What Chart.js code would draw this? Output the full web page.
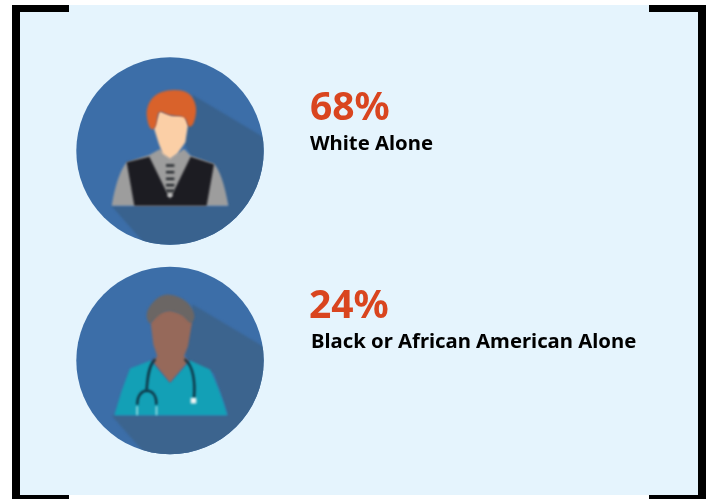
<!DOCTYPE html>
<html><head><meta charset="utf-8">
<style>html,body{margin:0;padding:0;background:#fff}canvas{display:block}</style>
<script src="https://cdn.jsdelivr.net/npm/chart.js@4/dist/chart.umd.min.js"></script>
</head><body><canvas id="c" width="709" height="499"></canvas>
<script>
const categories = ["White Alone", "Black or African American Alone"];
const percentages = [68, 24];

const FONT = '"Noto Sans"';
function poly(ctx, pts){ctx.beginPath();pts.forEach((p,i)=>i?ctx.lineTo(p[0],p[1]):ctx.moveTo(p[0],p[1]));ctx.closePath();}
function smooth(ctx, pts){
  ctx.beginPath();
  const n=pts.length;
  for(let i=0;i<n;i++){
    const a=pts[i],b=pts[(i+1)%n],m=[(a[0]+b[0])/2,(a[1]+b[1])/2];
    if(i===0){const z=pts[n-1];ctx.moveTo((z[0]+a[0])/2,(z[1]+a[1])/2);}
    ctx.quadraticCurveTo(a[0],a[1],m[0],m[1]);
  }
  ctx.closePath();
}
function shadow(ctx,col){
  ctx.fillStyle=col;
  poly(ctx,[[398,150],[650,300],[650,660],[310,660],[155,483],[505,483],[462,356],[392,332],[372,292]]);
  ctx.fill();
}
function man(ctx){
  ctx.fillStyle='#9d9d9d';
  ctx.beginPath();ctx.moveTo(200,352);ctx.quadraticCurveTo(172,385,155,482);ctx.lineTo(505,482);
  ctx.quadraticCurveTo(488,385,462,356);ctx.lineTo(392,332);ctx.lineTo(372,312);ctx.lineTo(330,340);ctx.lineTo(300,312);ctx.lineTo(268,330);ctx.closePath();ctx.fill();
  ctx.fillStyle='#1c1c22';
  poly(ctx,[[200,352],[268,335],[330,462],[392,335],[462,358],[440,482],[223,482]]);ctx.fill();
  ctx.fillStyle='#1f2327';
  for(const y of [358,378,398,417,434]){ctx.fillRect(318,y,25,7);}
  ctx.fillStyle='#e8e8e8';ctx.fillRect(322,449,16,5);
  ctx.fillStyle='#fbcfa6';
  poly(ctx,[[290,225],[298,198],[335,212],[374,212],[384,240],[376,292],[352,326],[330,342],[308,326],[296,295],[282,250]]);ctx.fill();
  ctx.fillStyle='#d9622b';
  smooth(ctx,[[268,255],[256,195],[280,150],[330,132],[388,140],[412,185],[402,238],[385,250],[376,212],[330,214],[298,196],[292,215],[288,250]]);ctx.fill();
}
function nurse(ctx){
  ctx.fillStyle='#13a0b6';
  ctx.beginPath();ctx.moveTo(210,342);ctx.lineTo(272,318);ctx.lineTo(330,385);ctx.lineTo(390,318);ctx.lineTo(450,345);
  ctx.quadraticCurveTo(482,410,502,482);ctx.lineTo(163,482);ctx.quadraticCurveTo(182,410,210,342);ctx.closePath();ctx.fill();
  ctx.fillStyle='#96695a';
  poly(ctx,[[272,205],[290,175],[330,165],[372,178],[396,205],[384,275],[372,305],[385,320],[330,384],[278,320],[292,305],[280,270]]);ctx.fill();
  ctx.fillStyle='#6b6664';
  smooth(ctx,[[268,212],[255,175],[290,128],[330,116],[385,140],[408,185],[392,212],[368,180],[318,165],[282,195]]);ctx.fill();
  ctx.strokeStyle='#0f2f3f';ctx.lineWidth=7;ctx.lineCap='round';
  ctx.beginPath();ctx.moveTo(284,316);ctx.bezierCurveTo(265,335,262,375,260,405);ctx.stroke();
  ctx.beginPath();ctx.moveTo(232,448);ctx.bezierCurveTo(232,395,290,395,289,448);ctx.stroke();
  ctx.beginPath();ctx.moveTo(376,316);ctx.bezierCurveTo(400,335,406,385,402,428);ctx.stroke();
  ctx.fillStyle='#eef3f3';ctx.fillRect(392,430,17,17);
  ctx.fillStyle='#9fdbe2';ctx.fillRect(229,455,5,27);ctx.fillRect(287,455,5,27);
}
const figures=[man,nurse];
const shades=['#39628e','#3c648e'];

const deco={
  id:'deco',
  beforeDatasetsDraw(chart){
    const c=chart.ctx;
    c.save();
    c.fillStyle='#e5f4fd';c.fillRect(20,5,678,490);
    c.fillStyle='#000';
    c.fillRect(12,5,8,494);c.fillRect(12,5,57,7);c.fillRect(12,495,57,4);
    c.fillRect(698,5,8,494);c.fillRect(649,5,57,7);c.fillRect(649,495,57,4);
    c.restore();
  },
  afterDatasetsDraw(chart){
    const c=chart.ctx, pts=chart.getDatasetMeta(0).data;
    pts.forEach((pt,i)=>{
      c.save();
      c.beginPath();c.arc(pt.x,pt.y,pt.options.radius,0,Math.PI*2);c.clip();
      c.filter='blur(0.8px)';
      c.translate(pt.x,pt.y);c.scale(1/3,1/3);c.translate(-330,-318);
      shadow(c,shades[i]);
      figures[i](c);
      c.restore();
    });
    c.save();
    c.textBaseline='alphabetic';c.textAlign='left';
    pts.forEach((pt,i)=>{
      c.fillStyle='#d9451f';
      c.font='bold 39px '+FONT;
      c.fillText(percentages[i]+'%',pt.x+140-(i?1:0),pt.y-31+(i?-12:0));
      c.fillStyle='#000';
      c.font='bold 20.3px '+FONT;
      c.fillText(categories[i],pt.x+140+(i?1:0),pt.y-1+(i?-12:0));
    });
    c.restore();
  }
};

new Chart(document.getElementById('c'),{
  type:'scatter',
  data:{datasets:[{
    label:'Share',
    data:percentages.map((v,i)=>({x:0,y:i})),
    pointRadius:93.7,pointHoverRadius:93.7,
    pointBackgroundColor:'#3c6ea8',pointBorderWidth:0,clip:false
  }]},
  options:{
    responsive:false,animation:false,
    layout:{padding:0,autoPadding:false},
    plugins:{legend:{display:false},tooltip:{enabled:false}},
    scales:{
      x:{display:false,bounds:'data',min:-170/709*4,max:(709-170)/709*4},
      y:{display:false,bounds:'data',reverse:true,min:-151/209.5,max:(499-151)/209.5}
    }
  },
  plugins:[deco]
});
</script></body></html>
